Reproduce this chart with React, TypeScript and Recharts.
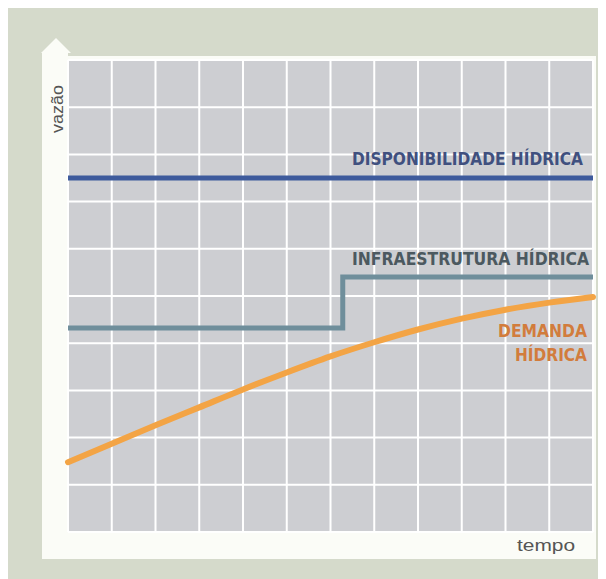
import React from 'react';
import { ComposedChart, Line, XAxis, YAxis, CartesianGrid, ReferenceDot } from 'recharts';

// ---- data ----
const xTicks = [0, 1, 2, 3, 4, 5, 6, 7, 8, 9, 10, 11, 12];
const yTicks = [0, 1, 2, 3, 4, 5, 6, 7, 8, 9, 10];

const disponibilidade = [
  { x: 0, y: 7.5 },
  { x: 12, y: 7.5 },
];

const infraestrutura = [
  { x: 0, y: 4.32 },
  { x: 6.28, y: 4.32 },
  { x: 6.28, y: 5.4 },
  { x: 12, y: 5.4 },
];

const demandaX = [0, 1, 2, 3, 4, 5, 6, 7, 8, 9, 10, 11, 12];
const demandaY = [1.48, 1.87, 2.26, 2.64, 3.02, 3.38, 3.72, 4.02, 4.29, 4.52, 4.71, 4.86, 4.98];
const demanda = demandaX.map((x, i) => ({ x, y: demandaY[i] }));

const labelDisp = ['DISPONIBILIDADE HÍDRICA'];
const labelInfra = ['INFRAESTRUTURA HÍDRICA'];
const labelDem = ['DEMANDA', 'HÍDRICA'];
const yAxisTitle = 'vazão';
const xAxisTitle = 'tempo';

// ---- layout ----
const W = 598;
const H = 571;
const M = { top: 52, right: 13, bottom: 47, left: 60 };
const BG = '#d5dacb';
const PANEL = '#fbfcf7';
const GRID_FILL = '#cdced2';

const FONT_COND = '"Liberation Sans Narrow", "DejaVu Sans Condensed", "Arial Narrow", sans-serif';
const FONT = '"Liberation Sans", Arial, sans-serif';

const center = (vb: any) => ({
  cx: vb.x + (vb.width || 0) / 2,
  cy: vb.y + (vb.height || 0) / 2,
});

const makeLabel =
  (lines: string[], dx: number, dy: number, gap: number, color: string, lengths: number[]) =>
  (props: any) => {
    const { cx, cy } = center(props.viewBox);
    return (
      <g>
        {lines.map((t, i) => (
          <text
            key={i}
            x={cx + dx}
            y={cy + dy + i * gap}
            textAnchor="end"
            fill={color}
            fontFamily={FONT_COND}
            fontWeight="bold"
            fontSize={18}
            textLength={lengths[i]}
            lengthAdjust="spacingAndGlyphs"
          >
            {t}
          </text>
        ))}
      </g>
    );
  };

const yTitle = (props: any) => {
  const { cx, cy } = center(props.viewBox);
  const x = cx - 11;
  const y = cy + 49;
  return (
    <text
      x={x}
      y={y}
      transform={`rotate(-90 ${x} ${y})`}
      textAnchor="middle"
      dominantBaseline="central"
      fill="#555"
      fontFamily={FONT}
      fontSize={16}
      textLength={48}
      lengthAdjust="spacingAndGlyphs"
    >
      {yAxisTitle}
    </text>
  );
};

const xTitle = (props: any) => {
  const { cx, cy } = center(props.viewBox);
  return (
    <text
      x={cx - 18}
      y={cy + 19}
      textAnchor="end"
      fill="#555"
      fontFamily={FONT}
      fontSize={16}
      textLength={58}
      lengthAdjust="spacingAndGlyphs"
    >
      {xAxisTitle}
    </text>
  );
};

export default function App() {
  const plotL = M.left;
  const plotT = M.top;
  const plotR = W - M.right;
  const plotB = H - M.bottom;
  return (
    <div style={{ position: 'relative', width: W, height: H, background: BG }}>
      <svg width={W} height={H} style={{ position: 'absolute', left: 0, top: 0 }}>
        <rect x={plotL - 26} y={plotT - 4} width={plotR - plotL + 29} height={plotB - plotT + 31} fill={PANEL} />
        <polygon
          points={`${plotL - 27},${plotT - 7} ${plotL - 12},${plotT - 22} ${plotL + 3},${plotT - 7}`}
          fill={PANEL}
        />
        <rect x={plotL - 26} y={plotT - 8} width={26} height={6} fill={PANEL} />
      </svg>
      <div style={{ position: 'absolute', left: 0, top: 0 }}>
        <ComposedChart width={W} height={H} margin={M}>
          <CartesianGrid
            fill={GRID_FILL}
            fillOpacity={1}
            stroke="#ffffff"
            strokeWidth={2}
          />
          <XAxis type="number" dataKey="x" domain={[0, 12]} ticks={xTicks} hide />
          <YAxis type="number" dataKey="y" domain={[0, 10]} ticks={yTicks} hide />
          <Line
            data={disponibilidade}
            dataKey="y"
            type="linear"
            stroke="#3d5a9c"
            strokeWidth={5}
            dot={false}
            activeDot={false}
            isAnimationActive={false}
          />
          <Line
            data={infraestrutura}
            dataKey="y"
            type="linear"
            stroke="#6f8e9b"
            strokeWidth={5}
            dot={false}
            activeDot={false}
            isAnimationActive={false}
          />
          <Line
            data={demanda}
            dataKey="y"
            type="monotone"
            stroke="#f3a445"
            strokeWidth={6}
            strokeLinecap="round"
            dot={false}
            activeDot={false}
            isAnimationActive={false}
          />
          <ReferenceDot
            x={12}
            y={7.5}
            r={0}
            fill="none"
            stroke="none"
            label={{ content: makeLabel(labelDisp, -10, -13, 0, '#40507f', [231]) }}
          />
          <ReferenceDot
            x={12}
            y={5.4}
            r={0}
            fill="none"
            stroke="none"
            label={{ content: makeLabel(labelInfra, -4, -12, 0, '#4c5960', [237]) }}
          />
          <ReferenceDot
            x={12}
            y={4.98}
            r={0}
            fill="none"
            stroke="none"
            label={{ content: makeLabel(labelDem, -6, 40, 24, '#d27c3c', [89, 72]) }}
          />
          <ReferenceDot x={0} y={10} r={0} fill="none" stroke="none" label={{ content: yTitle }} />
          <ReferenceDot x={12} y={0} r={0} fill="none" stroke="none" label={{ content: xTitle }} />
        </ComposedChart>
      </div>
    </div>
  );
}
